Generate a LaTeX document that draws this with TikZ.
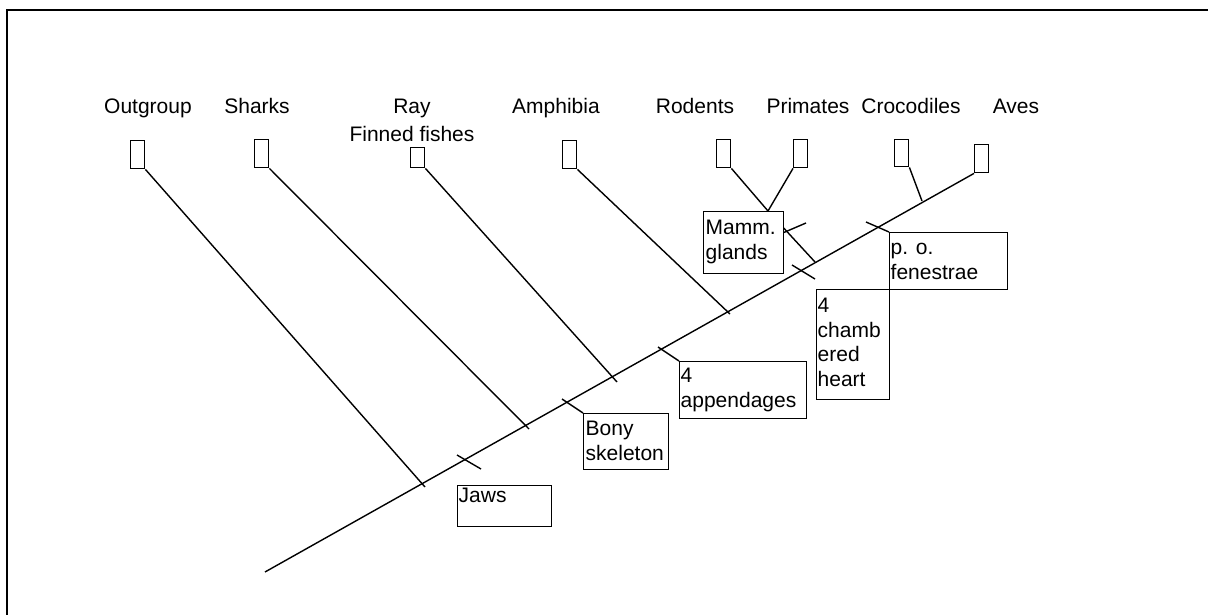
\documentclass[tikz,border=0pt]{standalone}
\usepackage{fontspec}
\setmainfont{Liberation Sans}
\begin{document}
\begin{tikzpicture}[x=1pt,y=-1pt,line width=1.4pt,
  taxbox/.style={draw,inner sep=0pt,minimum width=14pt,minimum height=28pt,anchor=north west},
  charbox/.style={draw,fill=white,inner sep=0pt,anchor=north west},
  boxtext/.style={anchor=north west,inner sep=0pt,align=left,font=\fontsize{21}{24.5}\selectfont},
  taxlabel/.style={anchor=north,inner sep=0pt,align=center,font=\fontsize{21}{24.5}\selectfont},
  conn/.style={line width=1.4pt}]
\useasboundingbox (0,0) rectangle (1208,615);
\fill[white] (0,0) rectangle (1208,615);
\clip (0,0) rectangle (1208,615);
% frame
\draw[line width=1.6pt] (7,630) -- (7,10) -- (1230,10);

% taxon labels
\node[taxlabel] (lOut) at (148,97) {\rule{0pt}{16pt}Outgroup};
\node[taxlabel] (lSh) at (257,97) {\rule{0pt}{16pt}Sharks};
\node[taxlabel] (lRay) at (412,97) {\rule{0pt}{16pt}Ray\\[3.5pt]Finned fishes};
\node[taxlabel] (lAmph) at (556,97) {\rule{0pt}{16pt}Amphibia};
\node[taxlabel] (lRod) at (695,97) {\rule{0pt}{16pt}Rodents};
\node[taxlabel] (lPri) at (808,97) {\rule{0pt}{16pt}Primates};
\node[taxlabel] (lCroc) at (911,97) {\rule{0pt}{16pt}Crocodiles};
\node[taxlabel] (lAves) at (1016,97) {\rule{0pt}{16pt}Aves};

% taxon boxes
\node[taxbox] (bOut) at (130,140) {};
\node[taxbox] (bSh) at (254,139) {};
\node[taxbox,minimum height=20pt] (bRay) at (410,147) {};
\node[taxbox] (bAmph) at (562,140) {};
\node[taxbox] (bRod) at (716,139) {};
\node[taxbox] (bPri) at (793,139) {};
\node[taxbox,minimum height=27pt] (bCroc) at (894,139) {};
\node[taxbox] (bAves) at (974,144) {};

% axis and junctions
\coordinate (axStart) at (265,572);
\coordinate (jOut) at (425,487);
\coordinate (jSh) at (529,429);
\coordinate (jRay) at (617,382);
\coordinate (jAmph) at (730,314);
\coordinate (jMam) at (815,262);
\coordinate (jCroc) at (922,201);
\coordinate (jRP) at (768,211);

\draw[conn] (axStart) -- (bAves.south west);
\draw[conn] (bOut.south east) -- (jOut);
\draw[conn] (bSh.south east) -- (jSh);
\draw[conn] (bRay.south east) -- (jRay);
\draw[conn] (bAmph.south east) -- (jAmph);
\draw[conn] (bRod.south east) -- (jRP);
\draw[conn] (bPri.south west) -- (jRP);
\draw[conn] (jRP) -- (jMam);
\draw[conn] (bCroc.south east) -- (jCroc);

% character boxes
\node[charbox,minimum width=94pt,minimum height=41pt] (cJaws) at (457,485) {};
\node[charbox,minimum width=85pt,minimum height=56pt] (cBony) at (583,413) {};
\node[charbox,minimum width=127pt,minimum height=57pt] (cApp) at (679,361) {};
\node[charbox,minimum width=118pt,minimum height=57pt] (cPO) at (889,232) {};
\node[charbox,minimum width=73pt,minimum height=110pt] (cHeart) at (816,289) {};

% tick marks
\coordinate (tJaws1) at (457,455);
\coordinate (tJaws2) at (481,469);
\coordinate (tBony) at (562,399);
\coordinate (tApp) at (658,347);
\coordinate (tMam1) at (778,235);
\coordinate (tMam2) at (806,223);
\coordinate (tHeart1) at (792,265);
\coordinate (tHeart2) at (815,279);
\coordinate (tPO) at (866,222);
\draw[conn] (tJaws1) -- (tJaws2);
\draw[conn] (tBony) -- (cBony.north west);
\draw[conn] (tApp) -- (cApp.north west);
\draw[conn] (tMam1) -- (tMam2);
\draw[conn] (tHeart1) -- (tHeart2);
\draw[conn] (tPO) -- (cPO.north west);

\node[charbox,minimum width=80pt,minimum height=62pt] (cMamm) at (703,211) {};

% box texts
\node[boxtext] (xJaws) at ([shift={(1,1)}]cJaws.north west) {\rule{0pt}{16pt}Jaws};
\node[boxtext] (xBony) at ([shift={(2,6)}]cBony.north west) {\rule{0pt}{16pt}Bony\\skeleton};
\node[boxtext] (xApp) at ([shift={(1,5)}]cApp.north west) {\rule{0pt}{16pt}4\\appendages};
\node[boxtext] (xPO) at ([shift={(1,6)}]cPO.north west) {\rule{0pt}{16pt}p. o.\\fenestrae};
\node[boxtext] (xHeart) at ([shift={(1,7)}]cHeart.north west) {\rule{0pt}{16pt}4\\chamb\\ered\\heart};
\node[boxtext] (xMamm) at ([shift={(2,7)}]cMamm.north west) {\rule{0pt}{16pt}Mamm.\\glands};
\end{tikzpicture}
\end{document}
